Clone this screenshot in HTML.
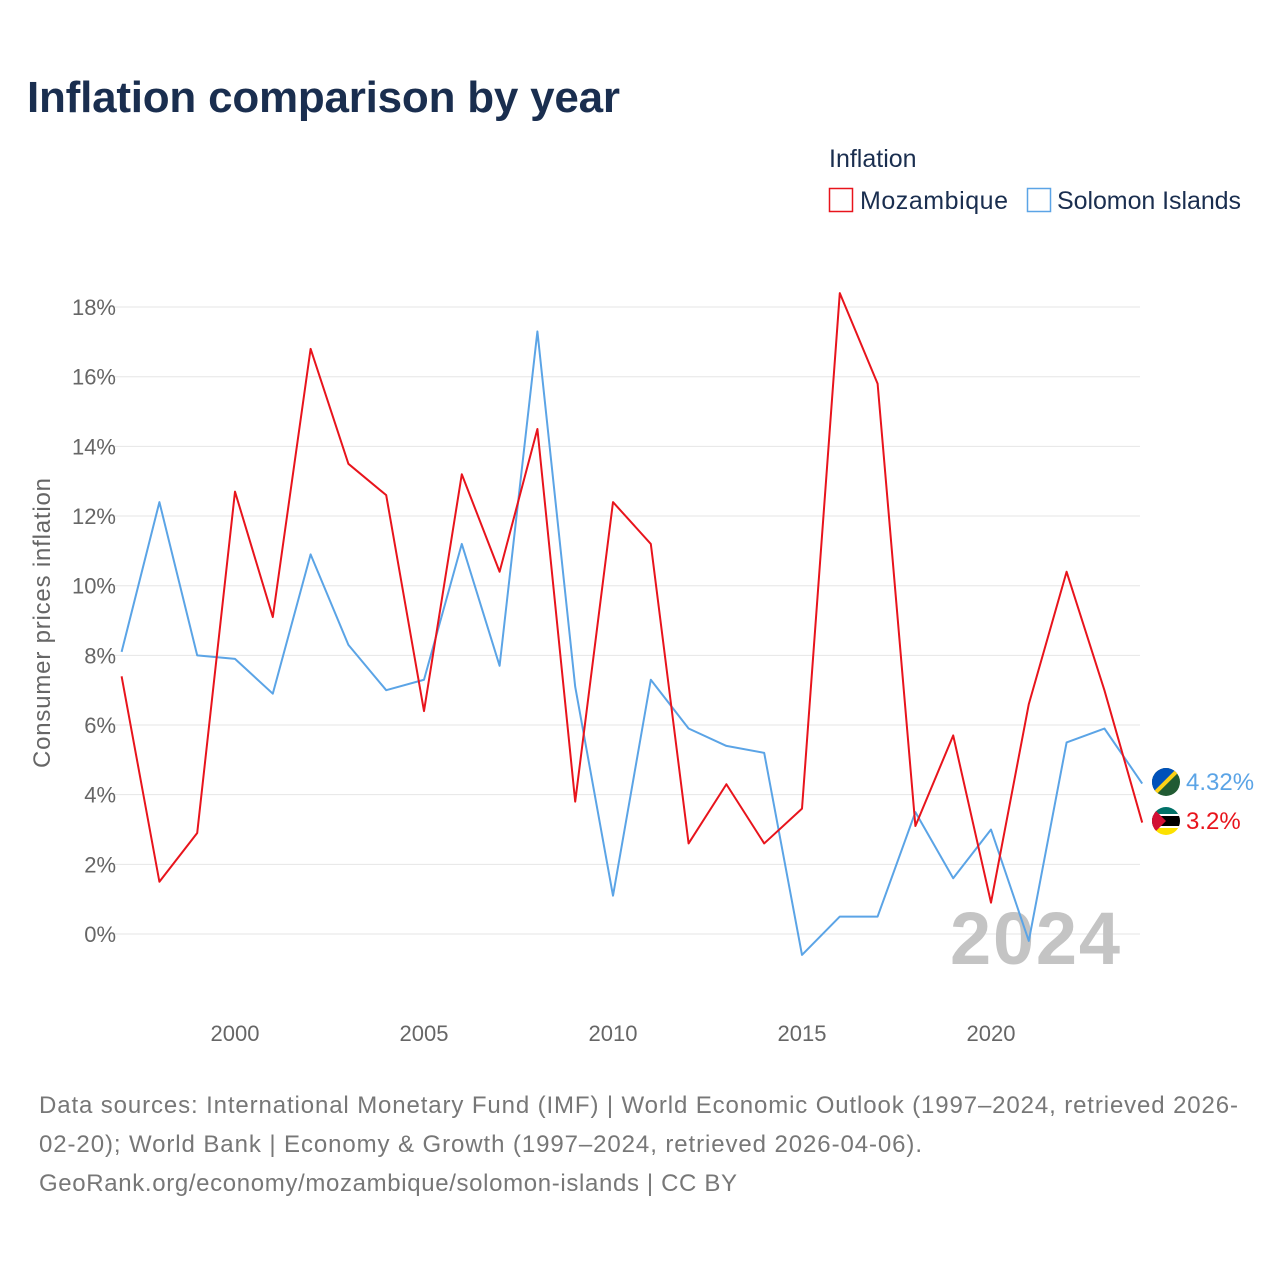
<!DOCTYPE html>
<html><head><meta charset="utf-8"><style>
body{margin:0;background:#fff;font-family:"Liberation Sans",sans-serif}
svg text{font-family:"Liberation Sans",sans-serif}
</style></head><body>
<svg id="c" width="1280" height="1280" viewBox="0 0 1280 1280">
<text x="27" y="112" font-size="44" font-weight="bold" fill="#1a2e4f" textLength="593">Inflation comparison by year</text>
<text x="829" y="167" font-size="25" fill="#1a2e4f">Inflation</text>
<g><rect x="829.5" y="188.5" width="23" height="23" fill="none" stroke="#e8141c" stroke-width="1.5"/><text x="860" y="209" font-size="25" fill="#1a2e4f" textLength="148">Mozambique</text></g>
<g><rect x="1027.5" y="188.5" width="23" height="23" fill="none" stroke="#5ba4e6" stroke-width="1.5"/><text x="1057" y="209" font-size="25" fill="#1a2e4f" textLength="184">Solomon Islands</text></g>
<g id="grid"></g><g id="yt"></g><g id="xt"></g>
<text transform="translate(50,623) rotate(-90)" text-anchor="middle" font-size="24" fill="#666" textLength="290">Consumer prices inflation</text>
<text x="1120" y="964" text-anchor="end" font-size="74" font-weight="bold" fill="#c4c4c4" textLength="170">2024</text>
<g id="lines"></g>
<g><clipPath id="cs"><circle cx="1166" cy="782" r="14"/></clipPath><g clip-path="url(#cs)"><rect x="1150" y="766" width="32" height="32" fill="#215b33"/><polygon points="1150,766 1182,766 1150,798" fill="#0051ba"/><line x1="1150" y1="798" x2="1182" y2="766" stroke="#fcd116" stroke-width="4"/></g></g>
<g><clipPath id="cm"><circle cx="1166" cy="821" r="14"/></clipPath><g clip-path="url(#cm)"><rect x="1150" y="805" width="32" height="11" fill="#007168"/><rect x="1150" y="816" width="32" height="10" fill="#000"/><rect x="1150" y="826" width="32" height="11" fill="#fce100"/><line x1="1150" y1="815" x2="1182" y2="815" stroke="#fff" stroke-width="2"/><line x1="1150" y1="827" x2="1182" y2="827" stroke="#fff" stroke-width="2"/><polygon points="1150,805 1166,821 1150,837" fill="#d21034"/></g></g>
<text x="1186" y="790" font-size="24" fill="#5ba4e6">4.32%</text>
<text x="1186" y="829" font-size="24" fill="#e8141c">3.2%</text>
<text font-size="24" fill="#777"><tspan x="39" y="1113" textLength="1199">Data sources: International Monetary Fund (IMF) | World Economic Outlook (1997–2024, retrieved 2026-</tspan><tspan x="39" y="1152" textLength="883">02-20); World Bank | Economy &amp; Growth (1997–2024, retrieved 2026-04-06).</tspan><tspan x="39" y="1191" textLength="698">GeoRank.org/economy/mozambique/solomon-islands | CC BY</tspan></text>
</svg>
<script>
const years=[1997,1998,1999,2000,2001,2002,2003,2004,2005,2006,2007,2008,2009,2010,2011,2012,2013,2014,2015,2016,2017,2018,2019,2020,2021,2022,2023,2024];
const mozambique=[7.4,1.5,2.9,12.7,9.1,16.8,13.5,12.6,6.4,13.2,10.4,14.5,3.8,12.4,11.2,2.6,4.3,2.6,3.6,18.4,15.8,3.1,5.7,0.9,6.6,10.4,7.0,3.2];
const solomon=[8.1,12.4,8.0,7.9,6.9,10.9,8.3,7.0,7.3,11.2,7.7,17.3,7.1,1.1,7.3,5.9,5.4,5.2,-0.6,0.5,0.5,3.5,1.6,3.0,-0.2,5.5,5.9,4.32];
const yTicks=[0,2,4,6,8,10,12,14,16,18];
const xTicks=[2000,2005,2010,2015,2020];
const X=y=>121.6+(y-1997)*37.8, Y=v=>934-v*34.83;
const NS="http://www.w3.org/2000/svg";
function mk(t,a,p){const e=document.createElementNS(NS,t);for(const k in a)e.setAttribute(k,a[k]);document.getElementById(p).appendChild(e);return e;}
yTicks.forEach(v=>{
 const l=mk('line',{x1:112,x2:1140,y1:Y(v),y2:Y(v),stroke:'#e6e6e6','stroke-width':1},'grid');
 
 
 const t=mk('text',{x:116,y:Y(v)+8,'text-anchor':'end','font-size':22,fill:'#666'},'yt');t.textContent=v+'%';
 
 
});
xTicks.forEach(v=>{
 const t=mk('text',{x:X(v),y:1041,'text-anchor':'middle','font-size':22,fill:'#666'},'xt');t.textContent=v;
 
 
});
function line(d,c,n){
 const p=mk('polyline',{points:d.map((v,i)=>X(years[i])+','+Y(v)).join(' '),fill:'none',stroke:c,'stroke-width':2,'stroke-linejoin':'round'},'lines');
 
 
}
line(solomon,'#5ba4e6','line-solomon-islands');
line(mozambique,'#e8141c','line-mozambique');
</script>
</body></html>
